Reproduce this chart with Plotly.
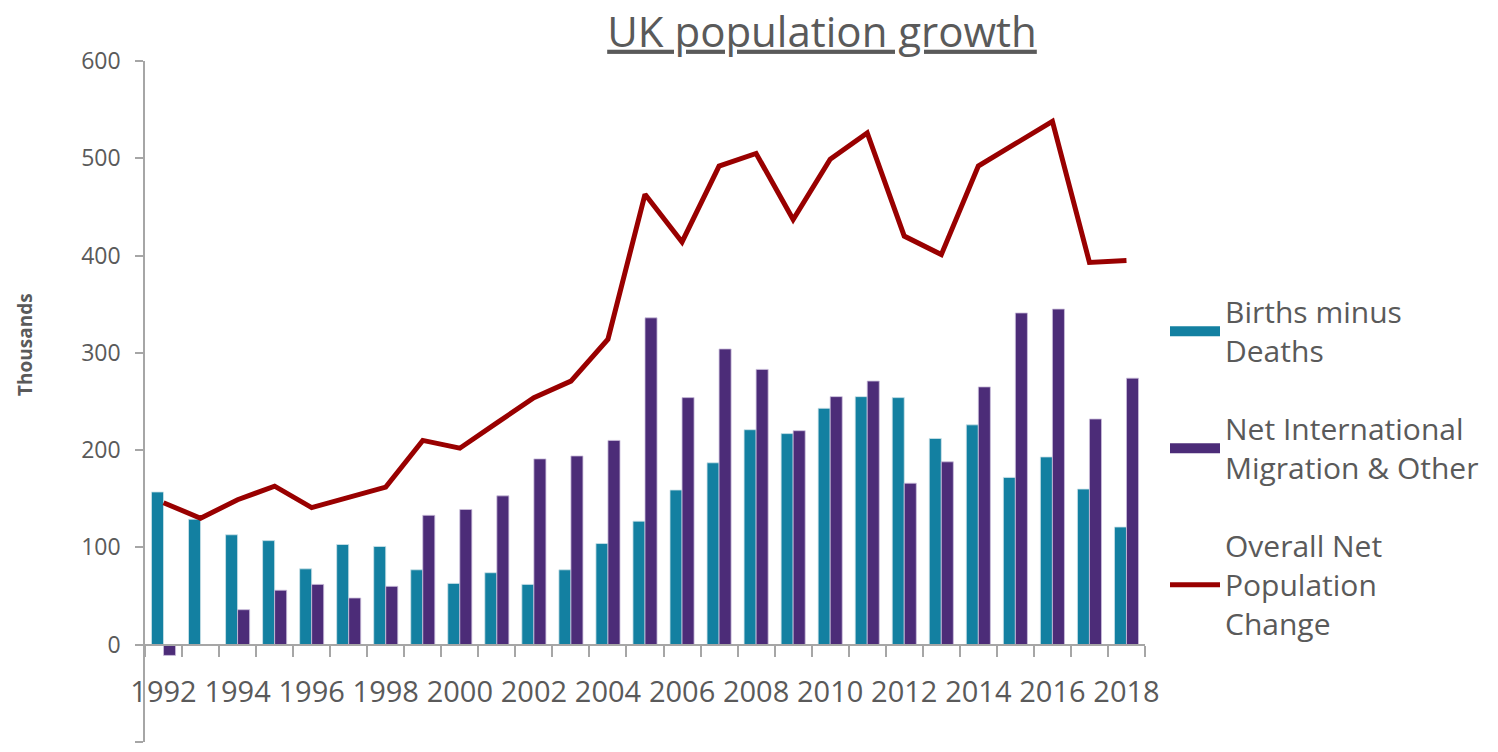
import plotly.graph_objects as go

years = list(range(1992, 2019))
births_minus_deaths = [157, 129, 113, 107, 78, 103, 101, 77, 63, 74, 62, 77, 104, 127, 159, 187, 221, 217, 243, 255, 254, 212, 226, 172, 193, 160, 121]
net_migration = [-11, 0, 36, 56, 62, 48, 60, 133, 139, 153, 191, 194, 210, 336, 254, 304, 283, 220, 255, 271, 166, 188, 265, 341, 345, 232, 274]
overall_change = [146, 130, 149, 163, 141, 151, 162, 210, 202, 228, 254, 271, 314, 463, 414, 492, 505, 437, 499, 526, 420, 401, 492, 515, 538, 393, 395]

label_years = list(range(1992, 2019, 2))
boundaries = [y - 0.5 for y in range(1992, 2020)]
y_ticks = list(range(-100, 601, 100))

TEAL = "#1380A1"
PURPLE = "#4C2C78"
RED = "#990000"
TEXT = "#5a5a5a"
AXIS = "#a6a6a6"
FONT = "Open Sans"

fig = go.Figure()
fig.add_trace(go.Bar(
    x=years, y=births_minus_deaths, name="Births minus<br>Deaths",
    marker=dict(color=TEAL, line=dict(color="#cfe3ea", width=0.8)),
    showlegend=False))
fig.add_trace(go.Bar(
    x=years, y=net_migration, name="Net International<br>Migration & Other",
    marker=dict(color=PURPLE, line=dict(color="#cbbfdc", width=0.8)),
    showlegend=False))
fig.add_trace(go.Scatter(
    x=years, y=overall_change, name="Overall Net<br>Population<br>Change",
    mode="lines", line=dict(color=RED, width=5),
    legendgroup="c", legendrank=3))
# legend proxies for the bar series (wide rectangular swatches)
fig.add_trace(go.Scatter(x=[None], y=[None], mode="lines", name="Births minus<br>Deaths",
                         line=dict(color=TEAL, width=18), legendgroup="a", legendrank=1))
fig.add_trace(go.Scatter(x=[None], y=[None], mode="lines", name="Net International<br>Migration & Other",
                         line=dict(color=PURPLE, width=18), legendgroup="b", legendrank=2))
# invisible trace to carry boundary ticks on the overlaid axis
fig.add_trace(go.Scatter(x=[years[0]], y=[None], xaxis="x2", showlegend=False, hoverinfo="skip"))

zero_pos = 100 / 700
fig.update_layout(
    width=1490, height=744,
    margin=dict(l=137, r=353, t=53, b=10, autoexpand=False),
    paper_bgcolor="white", plot_bgcolor="white",
    font=dict(family=FONT, color=TEXT),
    barmode="group", bargap=0.35, bargroupgap=0,
    title=dict(text="<u>UK population growth</u>", font=dict(size=42, color=TEXT, family=FONT),
               xref="paper", x=0.677, xanchor="center", yref="container", y=1 - 24 / 744, yanchor="middle"),
    xaxis=dict(range=[1991.5, 2018.5], anchor="free", position=zero_pos,
               showline=True, linecolor=AXIS, linewidth=1.5,
               tickvals=label_years, ticktext=[str(y) for y in label_years],
               ticks="", ticklabelstandoff=22, tickfont=dict(size=29, color=TEXT),
               showgrid=False, zeroline=False),
    xaxis2=dict(range=[1991.5, 2018.5], anchor="free", position=zero_pos, overlaying="x",
                tickvals=boundaries, ticks="outside", ticklen=11, tickcolor=AXIS, tickwidth=1.5,
                showticklabels=False, showgrid=False, zeroline=False, showline=False),
    yaxis=dict(range=[-100, 600], tickvals=y_ticks, ticks="outside", ticklen=8,
               tickcolor=AXIS, tickwidth=1.5, showline=True, linecolor=AXIS, linewidth=1.5,
               tickfont=dict(size=23, color=TEXT), ticklabelstandoff=10,
               showgrid=False, zeroline=False),
    legend=dict(x=1.02, y=0.670, xanchor="left", yanchor="top",
                font=dict(size=30, color=TEXT, family=FONT),
                tracegroupgap=36, itemwidth=50, bgcolor="rgba(0,0,0,0)"),
    annotations=[dict(text="<b>Thousands</b>", textangle=-90, xref="paper", yref="paper",
                      x=(25 - 145) / 1000, y=(742 - 345) / 681, xanchor="center", yanchor="middle",
                      showarrow=False, font=dict(size=19, color=TEXT, family=FONT))],
    showlegend=True,
)

fig.write_html("out.html")
